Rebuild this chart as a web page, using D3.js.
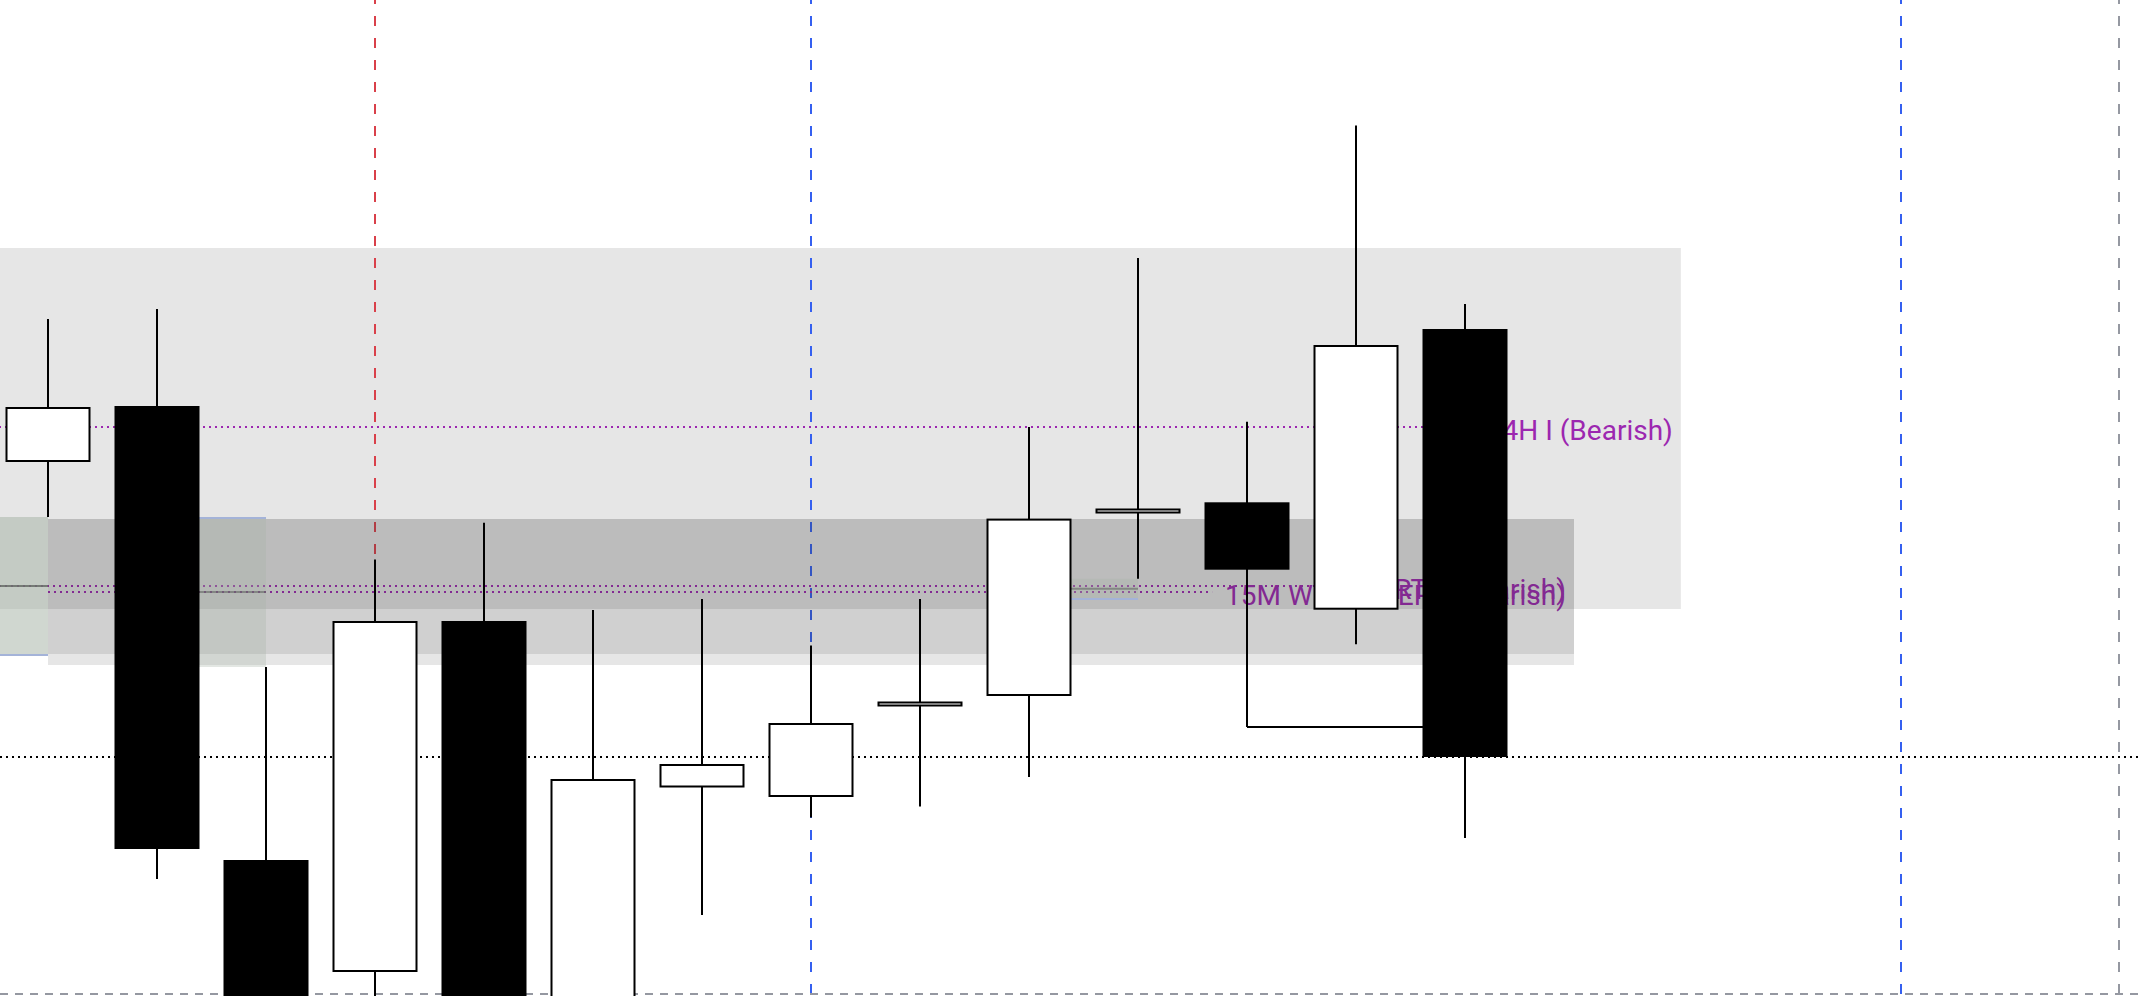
<!DOCTYPE html>
<html>
<head>
<meta charset="utf-8">
<script src="https://cdn.jsdelivr.net/npm/d3@7"></script>
<style>
html,body{margin:0;padding:0;background:#ffffff;overflow:hidden}
svg{display:block}
</style>
</head>
<body>
<svg id="chart" width="2140" height="996"></svg>
<script>
// ---- data (bar index, prices) ----
const bars  = [0,1,2,3,4,5,6,7,8,9,10,11,12,13];
const open  = [2269, 2297, 2070, 2014, 2189.5, 1995, 2106.25, 2101.5, 2146.75, 2152, 2243.25, 2248.85, 2195.15, 2335.5];
const high  = [2340.5, 2345.5, 2166.5, 2220.2, 2238.65, 2195, 2200.5, 2177.25, 2200.5, 2286.5, 2371, 2289.15, 2437.2, 2348];
const low   = [2241.5, 2060.5, 1985, 1990, 1980, 1985, 2042.5, 2091.25, 2096.7, 2111.5, 2210.65, 2136.5, 2177.85, 2081];
const close = [2296.5, 2075.5, 1995, 2189.5, 1992, 2110.5, 2118, 2138.5, 2149.25, 2240.7, 2245.75, 2215.15, 2327.5, 2121.5];

// zones: [fromBar, toBar, topPrice, bottomPrice]
const zoneA  = [-1, 14.98, 2376, 2195.5];
const zoneB1 = [0, 14, 2240.5, 2173];
const zoneB2 = [0, 14, 2240.5, 2167.5];

// imbalance boxes: [fromBar, toBar, topPrice, bottomPrice, borderSide]
const boxes = [
  [-2, 0, 2241.5, 2172.5, "bottom"],
  [-1, 0, 2241.5, 2172.5, "bottom"],
  [1, 2, low[0], high[2], "top"],
  [9, 10, low[10], high[8], "bottom"]
];

// labelled levels: [fromBar, price, labelEndBar, label]
const levels = [
  [-1, 2286.5, 14.98, "4H I (Bearish)"],
  [-1, 2207, 14, "15M RTO (Bearish)"],
  [0, 2204, 14, "15M WEEKLY ERL (Bearish)"]
];

// vertical markers: [bar, kind]
const vmarks = [[3, "red"], [7, "blue"], [17, "blue"], [19, "gray"]];
const bottomLevel = 2003;
const sweep = [11, low[11], 13];   // fromBar, price, toBar

// ---- scales ----
const W = 2140, H = 996;
const x = d3.scaleLinear().domain([0, 19]).range([48, 2119]);
const y = d3.scaleLinear().domain([2002, 2500]).range([H, 0]);
const bodyW = 83;

const svg = d3.select("#chart");
svg.append("rect").attr("width", W).attr("height", H).attr("fill", "#ffffff");

const zoneFill = "rgba(47,47,47,0.12)";
function zone(z) {
  svg.append("rect")
    .attr("x", x(z[0])).attr("width", x(z[1]) - x(z[0]))
    .attr("y", y(z[2])).attr("height", y(z[3]) - y(z[2]))
    .attr("fill", zoneFill);
}

// layer 1: big zone
zone(zoneA);

// layer 2: vertical dashed markers + bottom dashed level
const vColor = {red: "#d9404a", blue: "#3560f0", gray: "#9598a1"};
svg.append("g").selectAll("line").data(vmarks).join("line")
  .attr("x1", d => x(d[0])).attr("x2", d => x(d[0]))
  .attr("y1", 0).attr("y2", H)
  .attr("stroke", d => vColor[d[1]]).attr("stroke-width", 2)
  .attr("stroke-dasharray", "10,12").attr("stroke-dashoffset", 6);
svg.append("line")
  .attr("x1", 0).attr("x2", W)
  .attr("y1", y(bottomLevel)).attr("y2", y(bottomLevel))
  .attr("stroke", "#9598a1").attr("stroke-width", 2)
  .attr("stroke-dasharray", "8,7");

// layer 3: purple levels and labels
const purple = "#9c27b0";
const fs = 28, pad = 8;
const lg = svg.append("g");
levels.forEach(l => {
  const ly = y(l[1]);
  const tx = x(l[2]) - pad;
  const t = lg.append("text")
    .attr("x", tx).attr("y", ly + 12.5)
    .attr("text-anchor", "end")
    .attr("font-family", "Roboto, 'Noto Sans', sans-serif")
    .attr("font-size", fs)
    .attr("fill", purple)
    .text(l[3]);
  const w = t.node().getComputedTextLength();
  lg.insert("line", "text")
    .attr("x1", x(l[0])).attr("x2", tx - w - 13)
    .attr("y1", ly).attr("y2", ly)
    .attr("stroke", purple).attr("stroke-width", 2)
    .attr("stroke-dasharray", "2,4");
});

// layer 4: second zone (two overlapping layers)
zone(zoneB1);
zone(zoneB2);

// layer 5: imbalance boxes
const bg = svg.append("g");
boxes.forEach(b => {
  const x0 = x(b[0]), x1 = x(b[1]);
  const yt = y(b[2]), yb = y(b[3]);
  bg.append("rect").attr("x", x0).attr("width", x1 - x0)
    .attr("y", yt).attr("height", yb - yt)
    .attr("fill", "rgba(167,180,167,0.32)");
  const ym = y((b[2] + b[3]) / 2);
  bg.append("line").attr("x1", x0).attr("x2", x1).attr("y1", ym).attr("y2", ym)
    .attr("stroke", "rgba(90,95,90,0.55)").attr("stroke-width", 2);
  const yl = b[4] === "top" ? yt + 1 : yb;
  bg.append("line").attr("x1", x0).attr("x2", x1).attr("y1", yl).attr("y2", yl)
    .attr("stroke", "#a4b3d8").attr("stroke-width", 2);
});

// layer 6: last price dotted line
svg.append("line")
  .attr("x1", 0).attr("x2", W)
  .attr("y1", y(close[close.length - 1])).attr("y2", y(close[close.length - 1]))
  .attr("stroke", "#000").attr("stroke-width", 2)
  .attr("stroke-dasharray", "2,4");

// layer 7: sweep line from swing low
svg.append("line")
  .attr("x1", x(sweep[0])).attr("x2", x(sweep[2]))
  .attr("y1", y(sweep[1])).attr("y2", y(sweep[1]))
  .attr("stroke", "#000").attr("stroke-width", 2);

// layer 8: candles
const cg = svg.append("g");
cg.selectAll("line.wick").data(bars).join("line").attr("class", "wick")
  .attr("x1", i => x(i)).attr("x2", i => x(i))
  .attr("y1", i => y(high[i])).attr("y2", i => y(low[i]))
  .attr("stroke", "#000").attr("stroke-width", 2);
cg.selectAll("rect.body").data(bars).join("rect").attr("class", "body")
  .attr("x", i => x(i) - bodyW / 2).attr("width", bodyW)
  .attr("y", i => y(Math.max(open[i], close[i])) + 1)
  .attr("height", i => Math.max(1, y(Math.min(open[i], close[i])) - y(Math.max(open[i], close[i])) - 2))
  .attr("fill", i => close[i] >= open[i] ? "#ffffff" : "#000000")
  .attr("stroke", "#000").attr("stroke-width", 2);
</script>
</body>
</html>
